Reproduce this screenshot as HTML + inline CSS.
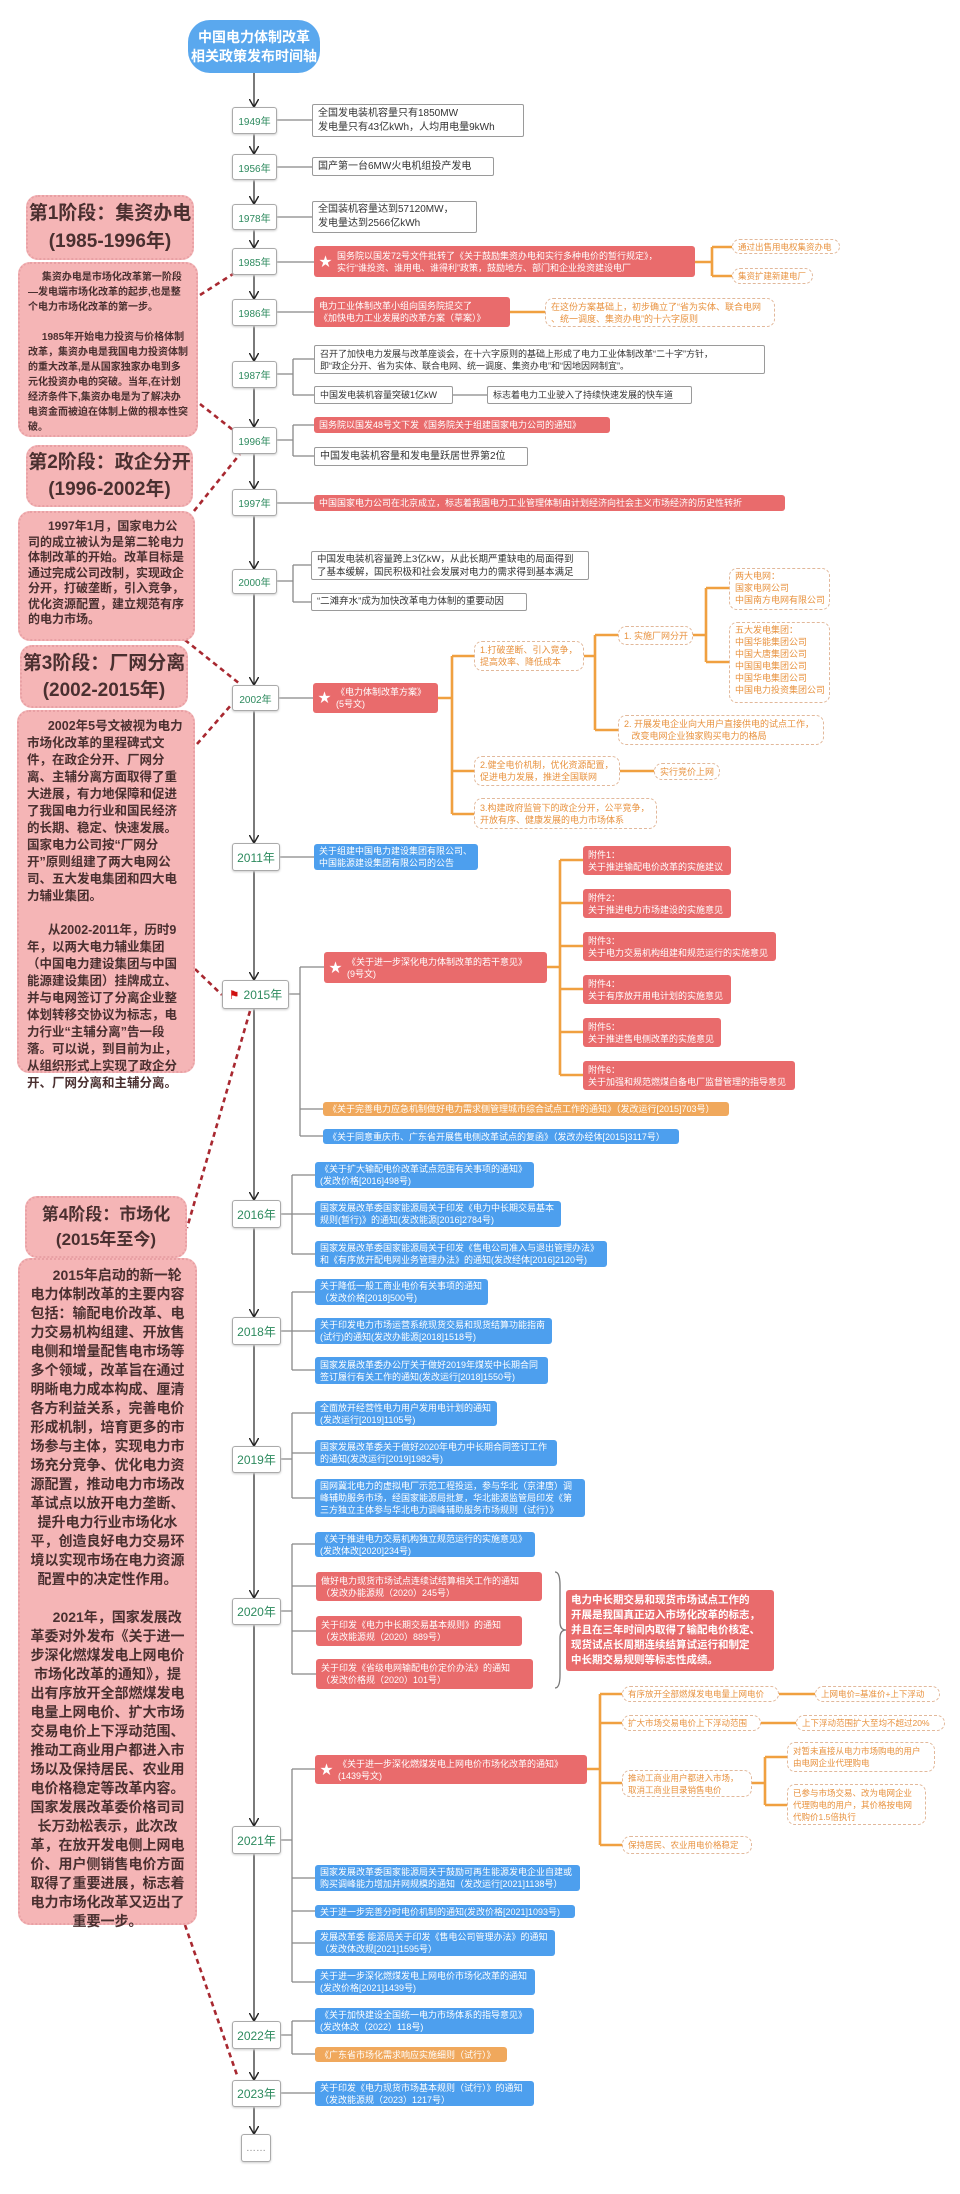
<!DOCTYPE html>
<html><head><meta charset="utf-8">
<style>
body{margin:0;background:#fff;}
#c{position:relative;width:960px;height:2194px;overflow:hidden;font-family:"Liberation Sans","Noto Sans CJK SC",sans-serif;}
.b{position:absolute;box-sizing:border-box;font-size:9px;line-height:12px;padding:1px 5px;border-radius:3px;display:flex;align-items:center;white-space:nowrap;overflow:hidden}
.w{background:#fff;border:1px solid #9a9a9a;color:#333;font-size:10px;line-height:14px;border-radius:2px}
.r{background:#e96b6c;color:#fff}
.bl{background:#4d9fee;color:#fff}
.o{background:#f0a85c;color:#fff}
.od{background:#fff;border:1.5px dashed #e2b89a;color:#e8923f;border-radius:8px}
.y{position:absolute;box-sizing:border-box;background:#fff;border:1px solid #aaa;border-radius:3px;color:#2d8a5e;font-size:10px;display:flex;align-items:center;justify-content:center;box-shadow:0 1px 2px #ccc}
.st{font-size:13px;margin-right:5px}
.pt{position:absolute;box-sizing:border-box;background:#f5b5b6;border:2px dotted #e8a0a4;border-radius:12px;color:#4a3030;font-weight:bold;text-align:center;display:flex;align-items:center;justify-content:center}
.px{position:absolute;box-sizing:border-box;background:#f5b5b6;border:2px dotted #e8a0a4;border-radius:12px;color:#4a3030;padding:6px 8px;text-align:left}
</style></head><body><div id="c">
<svg width="960" height="2194" style="position:absolute;left:0;top:0">
<defs><marker id="a" markerWidth="8" markerHeight="8" refX="6" refY="4" orient="auto"><path d="M0,0 L7,4 L0,8" fill="none" stroke="#222" stroke-width="1.2"/></marker></defs>
<g stroke="#222" stroke-width="1.2" marker-end="url(#a)">
<line x1="254" y1="73" x2="254" y2="106"/><line x1="254" y1="134" x2="254" y2="153"/><line x1="254" y1="180" x2="254" y2="203"/><line x1="254" y1="230" x2="254" y2="247"/><line x1="254" y1="275" x2="254" y2="298"/><line x1="254" y1="326" x2="254" y2="360"/><line x1="254" y1="388" x2="254" y2="426"/><line x1="254" y1="454" x2="254" y2="488"/><line x1="254" y1="516" x2="254" y2="568"/><line x1="254" y1="594" x2="254" y2="684"/><line x1="254" y1="711" x2="254" y2="842"/><line x1="254" y1="871" x2="254" y2="979"/><line x1="254" y1="1009" x2="254" y2="1199"/><line x1="254" y1="1228" x2="254" y2="1316"/><line x1="254" y1="1345" x2="254" y2="1445"/><line x1="254" y1="1473" x2="254" y2="1597"/><line x1="254" y1="1625" x2="254" y2="1825"/><line x1="254" y1="1854" x2="254" y2="2020"/><line x1="254" y1="2049" x2="254" y2="2079"/><line x1="254" y1="2107" x2="254" y2="2133"/>
</g>
<g stroke="#888" stroke-width="1.3" fill="none">
<path d="M277,120H312"/><path d="M277,167H312"/><path d="M277,217H312"/><path d="M277,262H314"/><path d="M277,312H314"/>
<path d="M277,374H293M293,359V395M293,359H314M293,395H314M453,395H487"/>
<path d="M277,440H293M293,425V456M293,425H314M293,456H314"/>
<path d="M277,503H314"/>
<path d="M277,581H293M293,565V602M293,565H311M293,602H311"/>
<path d="M279,698H313"/><path d="M280,857H314"/>
<path d="M289,994H300M300,967V1136M300,967H324M300,1109H323M300,1136H323"/>
<path d="M281,1214H292M292,1175V1254M292,1175H315M292,1214H315M292,1254H315"/>
<path d="M281,1331H292M292,1292V1370M292,1292H315M292,1331H315M292,1370H315"/>
<path d="M281,1459H292M292,1413V1498M292,1413H315M292,1453H315M292,1498H315"/>
<path d="M281,1611H292M292,1544V1674M292,1544H315M292,1586H316M292,1631H316M292,1674H316"/>
<path d="M281,1840H292M292,1769V1982M292,1769H315M292,1878H315M292,1911H315M292,1943H315M292,1982H315"/>
<path d="M281,2035H292M292,2021V2054M292,2021H315M292,2054H315"/>
<path d="M281,2093H315"/>
<path d="M555,1572 Q560,1572 560,1585 V1622 Q560,1630 566,1630 Q560,1630 560,1638 V1675 Q560,1688 555,1688" stroke="#777"/>
</g>
<g stroke="#f0a040" stroke-width="2.6" fill="none">
<path d="M695,262H712M712,247V276M712,247H732M712,276H732"/>
<path d="M510,312H545"/>
<path d="M438,698H452M452,656V814M452,656H474M452,771H474M452,814H474"/>
<path d="M584,656H595M595,635V730M595,635H618M595,730H618"/>
<path d="M693,635H706M706,588V662M706,588H729M706,662H729"/>
<path d="M620,771H654"/>
<path d="M547,967H560M560,860V1075M560,860H583M560,903H583M560,946H583M560,989H583M560,1032H583M560,1075H583"/>
<path d="M587,1769H600M600,1694V1845M600,1694H622M600,1723H622M600,1783H622M600,1845H622"/>
<path d="M779,1694H815M761,1723H796M752,1783H765M765,1757V1805M765,1757H787M765,1805H787"/>
</g>
<g stroke="#a82830" stroke-width="2.6" stroke-dasharray="5,4" fill="none">
<path d="M200,295L233,274"/><path d="M200,404L233,430"/>
<path d="M194,511L240,454"/><path d="M185,640L240,684"/>
<path d="M197,744L232,704"/><path d="M195,969L222,995"/>
<path d="M250,1011L187,1228"/><path d="M185,1925L238,2078"/>
</g>
</svg>

<div style="position:absolute;left:188px;top:20px;width:132px;height:53px;background:#5aa8ee;border-radius:22px;color:#fff;font-size:14px;line-height:19px;font-weight:bold;display:flex;align-items:center;justify-content:center;text-align:center">中国电力体制改革<br>相关政策发布时间轴</div>

<div class="y" style="left:232px;top:107px;width:45px;height:27px">1949年</div>
<div class="y" style="left:232px;top:154px;width:45px;height:26px">1956年</div>
<div class="y" style="left:232px;top:204px;width:45px;height:26px">1978年</div>
<div class="y" style="left:232px;top:248px;width:45px;height:27px">1985年</div>
<div class="y" style="left:232px;top:299px;width:45px;height:27px">1986年</div>
<div class="y" style="left:232px;top:361px;width:45px;height:27px">1987年</div>
<div class="y" style="left:232px;top:427px;width:45px;height:27px">1996年</div>
<div class="y" style="left:232px;top:489px;width:45px;height:27px">1997年</div>
<div class="y" style="left:232px;top:569px;width:45px;height:25px">2000年</div>
<div class="y" style="left:232px;top:685px;width:47px;height:26px">2002年</div>
<div class="y" style="left:232px;top:843px;width:48px;height:28px;font-size:12px">2011年</div>
<div class="y" style="left:222px;top:980px;width:67px;height:29px;font-size:12px"><span style="color:#d01010;margin-right:4px">⚑</span>2015年</div>
<div class="y" style="left:232px;top:1200px;width:49px;height:28px;font-size:12px">2016年</div>
<div class="y" style="left:232px;top:1317px;width:49px;height:28px;font-size:12px">2018年</div>
<div class="y" style="left:232px;top:1446px;width:49px;height:27px;font-size:12px">2019年</div>
<div class="y" style="left:232px;top:1598px;width:49px;height:27px;font-size:12px">2020年</div>
<div class="y" style="left:232px;top:1826px;width:49px;height:28px;font-size:12px">2021年</div>
<div class="y" style="left:232px;top:2021px;width:49px;height:28px;font-size:12px">2022年</div>
<div class="y" style="left:232px;top:2080px;width:49px;height:27px;font-size:12px">2023年</div>
<div class="y" style="left:241px;top:2134px;width:30px;height:28px;color:#888">……</div>

<div class="b w" style="left:312px;top:104px;width:212px;height:33px">全国发电装机容量只有1850MW<br>发电量只有43亿kWh，人均用电量9kWh</div>
<div class="b w" style="left:312px;top:157px;width:182px;height:19px">国产第一台6MW火电机组投产发电</div>
<div class="b w" style="left:312px;top:201px;width:165px;height:32px">全国装机容量达到57120MW，<br>发电量达到2566亿kWh</div>
<div class="b r" style="left:314px;top:246px;width:381px;height:31px"><span class="st">★</span><span>国务院以国发72号文件批转了《关于鼓励集资办电和实行多种电价的暂行规定》，<br>实行“谁投资、谁用电、谁得利”政策，鼓励地方、部门和企业投资建设电厂</span></div>
<div class="b od" style="left:732px;top:239px;width:108px;height:15px;font-size:8.5px">通过出售用电权集资办电</div>
<div class="b od" style="left:732px;top:268px;width:81px;height:16px;font-size:8.5px">集资扩建新建电厂</div>
<div class="b r" style="left:314px;top:297px;width:196px;height:30px">电力工业体制改革小组向国务院提交了<br>《加快电力工业发展的改革方案（草案）》</div>
<div class="b od" style="left:545px;top:298px;width:230px;height:29px">在这份方案基础上，初步确立了“省为实体、联合电网<br>、统一调度、集资办电”的十六字原则</div>
<div class="b w" style="left:314px;top:345px;width:451px;height:29px;font-size:9px;line-height:12px">召开了加快电力发展与改革座谈会，在十六字原则的基础上形成了电力工业体制改革“二十字”方针，<br>即“政企分开、省为实体、联合电网、统一调度、集资办电”和“因地因网制宜”。</div>
<div class="b w" style="left:314px;top:386px;width:139px;height:18px;font-size:9px">中国发电装机容量突破1亿kW</div>
<div class="b w" style="left:487px;top:386px;width:205px;height:18px;font-size:9px">标志着电力工业驶入了持续快速发展的快车道</div>
<div class="b r" style="left:314px;top:417px;width:296px;height:16px">国务院以国发48号文下发《国务院关于组建国家电力公司的通知》</div>
<div class="b w" style="left:314px;top:447px;width:214px;height:19px">中国发电装机容量和发电量跃居世界第2位</div>
<div class="b r" style="left:314px;top:495px;width:471px;height:16px">中国国家电力公司在北京成立，标志着我国电力工业管理体制由计划经济向社会主义市场经济的历史性转折</div>
<div class="b w" style="left:311px;top:551px;width:278px;height:29px;font-size:9.5px;line-height:13px">中国发电装机容量跨上3亿kW，从此长期严重缺电的局面得到<br>了基本缓解，国民积极和社会发展对电力的需求得到基本满足</div>
<div class="b w" style="left:311px;top:593px;width:216px;height:18px;font-size:9.5px">“二滩弃水”成为加快改革电力体制的重要动因</div>

<div class="b r" style="left:313px;top:683px;width:125px;height:30px"><span class="st">★</span><span>《电力体制改革方案》<br>(5号文)</span></div>
<div class="b od" style="left:474px;top:641px;width:110px;height:30px">1.打破垄断、引入竞争，<br>提高效率、降低成本</div>
<div class="b od" style="left:618px;top:626px;width:75px;height:19px">1. 实施厂网分开</div>
<div class="b od" style="left:729px;top:568px;width:101px;height:42px;align-items:flex-start">两大电网：<br>国家电网公司<br>中国南方电网有限公司</div>
<div class="b od" style="left:729px;top:622px;width:101px;height:81px;align-items:flex-start">五大发电集团：<br>中国华能集团公司<br>中国大唐集团公司<br>中国国电集团公司<br>中国华电集团公司<br>中国电力投资集团公司</div>
<div class="b od" style="left:618px;top:715px;width:206px;height:30px">2.&nbsp;开展发电企业向大用户直接供电的试点工作，<br>&nbsp;&nbsp;&nbsp;改变电网企业独家购买电力的格局</div>
<div class="b od" style="left:474px;top:756px;width:146px;height:30px">2.健全电价机制，优化资源配置，<br>促进电力发展，推进全国联网</div>
<div class="b od" style="left:654px;top:763px;width:66px;height:17px">实行竞价上网</div>
<div class="b od" style="left:474px;top:798px;width:183px;height:31px">3.构建政府监管下的政企分开，公平竞争，<br>开放有序、健康发展的电力市场体系</div>

<div class="b bl" style="left:314px;top:844px;width:164px;height:26px">关于组建中国电力建设集团有限公司、<br>中国能源建设集团有限公司的公告</div>
<div class="b r" style="left:324px;top:952px;width:223px;height:31px"><span class="st">★</span><span>《关于进一步深化电力体制改革的若干意见》<br>(9号文)</span></div>
<div class="b r" style="left:583px;top:846px;width:148px;height:29px">附件1：<br>关于推进输配电价改革的实施建议</div>
<div class="b r" style="left:583px;top:889px;width:148px;height:29px">附件2：<br>关于推进电力市场建设的实施意见</div>
<div class="b r" style="left:583px;top:932px;width:193px;height:29px">附件3：<br>关于电力交易机构组建和规范运行的实施意见</div>
<div class="b r" style="left:583px;top:975px;width:148px;height:29px">附件4：<br>关于有序放开用电计划的实施意见</div>
<div class="b r" style="left:583px;top:1018px;width:138px;height:29px">附件5：<br>关于推进售电侧改革的实施意见</div>
<div class="b r" style="left:583px;top:1061px;width:212px;height:29px">附件6：<br>关于加强和规范燃煤自备电厂监督管理的指导意见</div>
<div class="b o" style="left:323px;top:1102px;width:406px;height:14px">《关于完善电力应急机制做好电力需求侧管理城市综合试点工作的通知》（发改运行[2015]703号）</div>
<div class="b bl" style="left:323px;top:1129px;width:356px;height:15px">《关于同意重庆市、广东省开展售电侧改革试点的复函》（发改办经体[2015]3117号）</div>

<div class="b bl" style="left:315px;top:1162px;width:219px;height:26px">《关于扩大输配电价改革试点范围有关事项的通知》<br>(发改价格[2016]498号)</div>
<div class="b bl" style="left:315px;top:1201px;width:246px;height:26px">国家发展改革委国家能源局关于印发《电力中长期交易基本<br>规则(暂行)》的通知(发改能源[2016]2784号)</div>
<div class="b bl" style="left:315px;top:1241px;width:292px;height:26px">国家发展改革委国家能源局关于印发《售电公司准入与退出管理办法》<br>和《有序放开配电网业务管理办法》的通知(发改经体[2016]2120号)</div>
<div class="b bl" style="left:315px;top:1279px;width:173px;height:26px">关于降低一般工商业电价有关事项的通知<br>（发改价格[2018]500号)</div>
<div class="b bl" style="left:315px;top:1318px;width:237px;height:26px">关于印发电力市场运营系统现货交易和现货结算功能指南<br>(试行)的通知(发改办能源[2018]1518号)</div>
<div class="b bl" style="left:315px;top:1357px;width:233px;height:27px">国家发展改革委办公厅关于做好2019年煤炭中长期合同<br>签订履行有关工作的通知(发改运行[2018]1550号)</div>
<div class="b bl" style="left:315px;top:1401px;width:182px;height:25px">全面放开经营性电力用户发用电计划的通知<br>(发改运行[2019]1105号)</div>
<div class="b bl" style="left:315px;top:1440px;width:242px;height:26px">国家发展改革委关于做好2020年电力中长期合同签订工作<br>的通知(发改运行[2019]1982号)</div>
<div class="b bl" style="left:315px;top:1479px;width:270px;height:38px">国网冀北电力的虚拟电厂示范工程投运，参与华北（京津唐）调<br>峰辅助服务市场，经国家能源局批复，华北能源监管局印发《第<br>三方独立主体参与华北电力调峰辅助服务市场规则（试行）》</div>
<div class="b bl" style="left:315px;top:1532px;width:220px;height:25px">《关于推进电力交易机构独立规范运行的实施意见》<br>(发改体改[2020]234号)</div>
<div class="b r" style="left:316px;top:1572px;width:226px;height:29px">做好电力现货市场试点连续试结算相关工作的通知<br>（发改办能源规（2020）245号）</div>
<div class="b r" style="left:316px;top:1616px;width:206px;height:30px">关于印发《电力中长期交易基本规则》的通知<br>（发改能源规（2020）889号）</div>
<div class="b r" style="left:316px;top:1659px;width:217px;height:30px">关于印发《省级电网输配电价定价办法》的通知<br>（发改价格规（2020）101号）</div>
<div class="b r" style="left:566px;top:1590px;width:208px;height:81px;font-size:10.5px;line-height:15px;font-weight:bold;padding:2px 5px">电力中长期交易和现货市场试点工作的<br>开展是我国真正迈入市场化改革的标志，<br>并且在三年时间内取得了输配电价核定、<br>现货试点长周期连续结算试运行和制定<br>中长期交易规则等标志性成绩。</div>

<div class="b r" style="left:315px;top:1755px;width:272px;height:29px"><span class="st">★</span><span>《关于进一步深化燃煤发电上网电价市场化改革的通知》<br>(1439号文)</span></div>
<div class="b od" style="left:622px;top:1686px;width:157px;height:16px;font-size:8.5px">有序放开全部燃煤发电电量上网电价</div>
<div class="b od" style="left:815px;top:1686px;width:125px;height:16px;font-size:8.5px">上网电价=基准价+上下浮动</div>
<div class="b od" style="left:622px;top:1715px;width:139px;height:16px;font-size:8.5px">扩大市场交易电价上下浮动范围</div>
<div class="b od" style="left:796px;top:1715px;width:149px;height:16px;font-size:8.5px">上下浮动范围扩大至均不超过20%</div>
<div class="b od" style="left:622px;top:1770px;width:130px;height:27px;font-size:8.5px">推动工商业用户都进入市场，<br>取消工商业目录销售电价</div>
<div class="b od" style="left:787px;top:1742px;width:148px;height:30px;font-size:8.5px">对暂未直接从电力市场购电的用户<br>由电网企业代理购电</div>
<div class="b od" style="left:787px;top:1784px;width:139px;height:41px;font-size:8.5px">已参与市场交易、改为电网企业<br>代理购电的用户，其价格按电网<br>代购价1.5倍执行</div>
<div class="b od" style="left:622px;top:1836px;width:130px;height:18px;font-size:8.5px">保持居民、农业用电价格稳定</div>
<div class="b bl" style="left:315px;top:1865px;width:265px;height:26px">国家发展改革委国家能源局关于鼓励可再生能源发电企业自建或<br>购买调峰能力增加并网规模的通知（发改运行[2021]1138号）</div>
<div class="b bl" style="left:315px;top:1905px;width:260px;height:13px">关于进一步完善分时电价机制的通知(发改价格[2021]1093号)</div>
<div class="b bl" style="left:315px;top:1930px;width:240px;height:26px">发展改革委 能源局关于印发《售电公司管理办法》的通知<br>（发改体改规[2021]1595号）</div>
<div class="b bl" style="left:315px;top:1969px;width:220px;height:26px">关于进一步深化燃煤发电上网电价市场化改革的通知<br>(发改价格[2021]1439号)</div>
<div class="b bl" style="left:315px;top:2008px;width:219px;height:26px">《关于加快建设全国统一电力市场体系的指导意见》<br>(发改体改（2022）118号)</div>
<div class="b o" style="left:315px;top:2047px;width:192px;height:15px">《广东省市场化需求响应实施细则（试行）》</div>
<div class="b bl" style="left:315px;top:2081px;width:219px;height:25px">关于印发《电力现货市场基本规则（试行）》的通知<br>（发改能源规（2023）1217号）</div>

<div class="pt" style="left:26px;top:195px;width:168px;height:65px;font-size:19px;line-height:28px">第1阶段：集资办电<br>(1985-1996年)</div>
<div class="px" style="left:18px;top:262px;width:180px;height:175px;font-size:10px;line-height:15px;font-weight:bold">&nbsp;&nbsp;&nbsp;&nbsp;&nbsp;集资办电是市场化改革第一阶段—发电端市场化改革的起步,也是整个电力市场化改革的第一步。<br><br>&nbsp;&nbsp;&nbsp;&nbsp;&nbsp;1985年开始电力投资与价格体制改革，集资办电是我国电力投资体制的重大改革,是从国家独家办电到多元化投资办电的突破。当年,在计划经济条件下,集资办电是为了解决办电资金而被迫在体制上做的根本性突破。</div>
<div class="pt" style="left:26px;top:445px;width:167px;height:62px;font-size:19px;line-height:27px">第2阶段：政企分开<br>(1996-2002年)</div>
<div class="px" style="left:18px;top:511px;width:177px;height:130px;font-size:12px;line-height:15.5px;font-weight:bold">&nbsp;&nbsp;&nbsp;&nbsp;&nbsp;&nbsp;1997年1月，国家电力公司的成立被认为是第二轮电力体制改革的开始。改革目标是通过完成公司改制，实现政企分开，打破垄断，引入竞争，优化资源配置，建立规范有序的电力市场。</div>
<div class="pt" style="left:20px;top:645px;width:168px;height:63px;font-size:19px;line-height:27px">第3阶段：厂网分离<br>(2002-2015年)</div>
<div class="px" style="left:17px;top:710px;width:178px;height:363px;font-size:12.5px;line-height:17px;font-weight:bold">&nbsp;&nbsp;&nbsp;&nbsp;&nbsp;&nbsp;2002年5号文被视为电力市场化改革的里程碑式文件，在政企分开、厂网分离、主辅分离方面取得了重大进展，有力地保障和促进了我国电力行业和国民经济的长期、稳定、快速发展。国家电力公司按“厂网分开”原则组建了两大电网公司、五大发电集团和四大电力辅业集团。<br><br>&nbsp;&nbsp;&nbsp;&nbsp;&nbsp;&nbsp;从2002-2011年，历时9年，以两大电力辅业集团（中国电力建设集团与中国能源建设集团）挂牌成立、并与电网签订了分离企业整体划转移交协议为标志，电力行业“主辅分离”告一段落。可以说，到目前为止，从组织形式上实现了政企分开、厂网分离和主辅分离。</div>
<div class="pt" style="left:25px;top:1196px;width:162px;height:62px;font-size:17px;line-height:25px">第4阶段：市场化<br>(2015年至今)</div>
<div class="px" style="left:18px;top:1258px;width:179px;height:667px;font-size:14px;line-height:19px;font-weight:bold;text-align:center;padding:6px 10px">&nbsp;&nbsp;&nbsp;&nbsp;&nbsp;2015年启动的新一轮电力体制改革的主要内容包括：输配电价改革、电力交易机构组建、开放售电侧和增量配售电市场等多个领域，改革旨在通过明晰电力成本构成、厘清各方利益关系，完善电价形成机制，培育更多的市场参与主体，实现电力市场充分竞争、优化电力资源配置，推动电力市场改革试点以放开电力垄断、提升电力行业市场化水平，创造良好电力交易环境以实现市场在电力资源配置中的决定性作用。<br><br>&nbsp;&nbsp;&nbsp;&nbsp;&nbsp;2021年，国家发展改革委对外发布《关于进一步深化燃煤发电上网电价市场化改革的通知》，提出有序放开全部燃煤发电电量上网电价、扩大市场交易电价上下浮动范围、推动工商业用户都进入市场以及保持居民、农业用电价格稳定等改革内容。国家发展改革委价格司司长万劲松表示，此次改革，在放开发电侧上网电价、用户侧销售电价方面取得了重要进展，标志着电力市场化改革又迈出了重要一步。</div>
</div></body></html>
